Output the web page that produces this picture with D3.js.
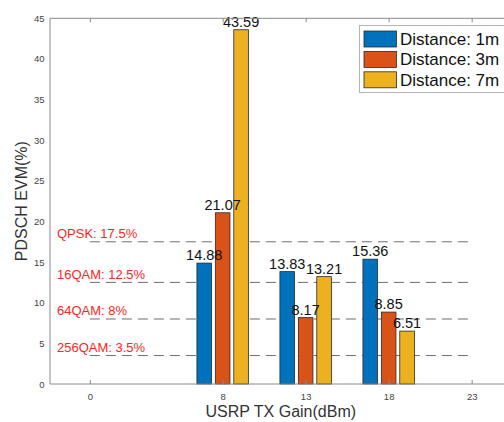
<!DOCTYPE html>
<html>
<head>
<meta charset="utf-8">
<script src="https://cdn.jsdelivr.net/npm/d3@7/dist/d3.min.js"></script>
<style>
  html, body { margin: 0; padding: 0; background: #fff; }
  svg { display: block; font-family: Helvetica, Arial, "Liberation Sans", sans-serif; }
</style>
</head>
<body>
<svg id="chart" width="504" height="422"></svg>
<script>
// TX gain settings (dBm) with measured PDSCH EVM (%) per distance
const gains = [8, 13, 18];
const xTicks = [0, 8, 13, 18, 23];
const yTicks = [0, 5, 10, 15, 20, 25, 30, 35, 40, 45];
const seriesNames = ["Distance: 1m", "Distance: 3m", "Distance: 7m"];
const evm1m = [14.88, 13.83, 15.36];
const evm3m = [21.07, 8.17, 8.85];
const evm7m = [43.59, 13.21, 6.51];
const seriesColors = ["#0072BD", "#D95319", "#EDB120"];
// Modulation EVM thresholds
const thresholdLabels = ["QPSK: 17.5%", "16QAM: 12.5%", "64QAM: 8%", "256QAM: 3.5%"];
const thresholdValues = [17.5, 12.5, 8, 3.5];

const seriesValues = [evm1m, evm3m, evm7m];
const svg = d3.select("#chart");

const x = d3.scaleLinear().domain([-2.4, 25.4]).range([50, 511.5]);
const y = d3.scaleLinear().domain([0, 45]).range([384, 18.3]);

// offsets of the three bars inside a group, in x-data units
const inner = d3.scaleBand().domain(d3.range(seriesNames.length))
  .range([-1.55, 1.55]).paddingInner(0.207).paddingOuter(0);

const axisColor = "#8a8a8a";

// threshold dashed lines
svg.append("g").selectAll("line").data(thresholdValues).join("line")
  .attr("x1", x(0)).attr("x2", x(23))
  .attr("y1", d => y(d)).attr("y2", d => y(d))
  .attr("stroke", "#6e6e6e").attr("stroke-width", 1)
  .attr("stroke-dasharray", "10,6");

svg.append("g").selectAll("text").data(thresholdValues).join("text")
  .attr("x", 57).attr("y", d => y(d) - 3.5)
  .attr("font-size", 13).attr("fill", "#ff2424")
  .text((d, i) => thresholdLabels[i]);

// bars
const bars = svg.append("g");
seriesValues.forEach((vals, s) => {
  bars.append("g").selectAll("rect").data(vals).join("rect")
    .attr("x", (d, i) => x(gains[i] + inner(s)))
    .attr("width", (d, i) => x(gains[i] + inner(s) + inner.bandwidth()) - x(gains[i] + inner(s)))
    .attr("y", d => y(d))
    .attr("height", d => y(0) - y(d))
    .attr("fill", seriesColors[s])
    .attr("stroke", "#2a2a2a").attr("stroke-width", 0.8);
});

// value labels
seriesValues.forEach((vals, s) => {
  svg.append("g").selectAll("text").data(vals).join("text")
    .attr("x", (d, i) => x(gains[i] + inner(s) + inner.bandwidth() / 2))
    .attr("y", d => y(d) - 3)
    .attr("text-anchor", "middle")
    .attr("font-size", 14.5).attr("fill", "#111")
    .text(d => d.toFixed(2));
});

// axes box
const [x0, x1] = x.range();
const [yb, yt] = y.range();
svg.append("line").attr("x1", x0).attr("x2", x1).attr("y1", yb).attr("y2", yb).attr("stroke", axisColor);
svg.append("line").attr("x1", x0).attr("x2", x1).attr("y1", yt).attr("y2", yt).attr("stroke", axisColor);
svg.append("line").attr("x1", x0).attr("x2", x0).attr("y1", yb).attr("y2", yt).attr("stroke", axisColor);
svg.append("line").attr("x1", x1).attr("x2", x1).attr("y1", yb).attr("y2", yt).attr("stroke", axisColor);

// bottom axis: ticks point inward
const xAxisB = svg.append("g").attr("transform", `translate(0,${yb})`)
  .call(d3.axisBottom(x).tickValues(xTicks).tickSize(-4).tickPadding(9).tickFormat(d3.format("d")));
xAxisB.select(".domain").remove();
xAxisB.selectAll(".tick line").attr("stroke", axisColor);
xAxisB.selectAll(".tick text").attr("font-size", 9.5).attr("fill", "#444")
  .attr("font-family", "Helvetica, Arial, 'Liberation Sans', sans-serif");

// top axis ticks
const xAxisT = svg.append("g").attr("transform", `translate(0,${yt})`)
  .call(d3.axisTop(x).tickValues(xTicks).tickSize(-4).tickFormat(""));
xAxisT.select(".domain").remove();
xAxisT.selectAll(".tick line").attr("stroke", axisColor);

// left axis labels
const yAxis = svg.append("g").attr("transform", `translate(${x0},0)`)
  .call(d3.axisLeft(y).tickValues(yTicks).tickSize(0).tickPadding(5.5).tickFormat(d3.format("d")));
yAxis.select(".domain").remove();
yAxis.selectAll(".tick text").attr("font-size", 9.5).attr("fill", "#444")
  .attr("font-family", "Helvetica, Arial, 'Liberation Sans', sans-serif");

// axis titles
svg.append("text")
  .attr("x", (x0 + x1) / 2).attr("y", 417)
  .attr("text-anchor", "middle").attr("font-size", 16).attr("fill", "#333")
  .text("USRP TX Gain(dBm)");
svg.append("text")
  .attr("transform", `translate(27,${(yb + yt) / 2}) rotate(-90)`)
  .attr("text-anchor", "middle").attr("font-size", 16).attr("fill", "#333")
  .text("PDSCH EVM(%)");

// legend
const legend = svg.append("g");
legend.append("rect").attr("x", 359.5).attr("y", 25.5).attr("width", 152).attr("height", 67)
  .attr("fill", "#fff").attr("stroke", "#b5b5b5").attr("stroke-width", 1);
seriesNames.forEach((name, i) => {
  const ry = 31 + i * 20.4;
  legend.append("rect").attr("x", 364).attr("y", ry).attr("width", 32.5).attr("height", 16)
    .attr("fill", seriesColors[i]).attr("stroke", "#2a2a2a").attr("stroke-width", 0.8);
  legend.append("text").attr("x", 400).attr("y", ry + 14)
    .attr("font-size", 17).attr("fill", "#111").text(name);
});
</script>
</body>
</html>
